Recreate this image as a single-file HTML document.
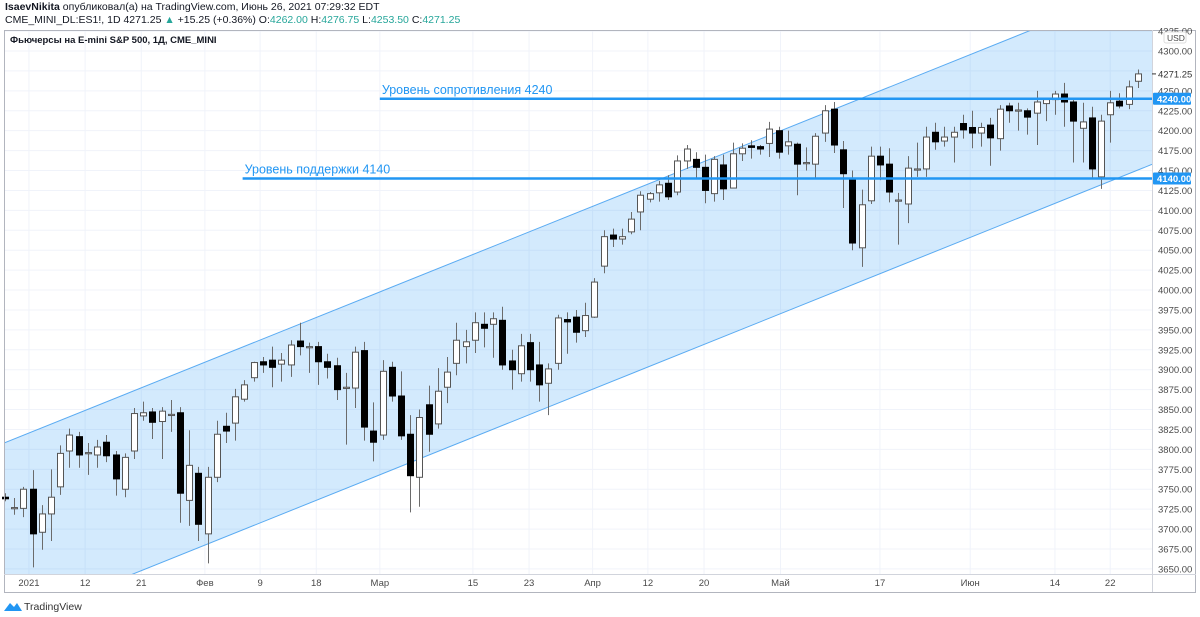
<!DOCTYPE html>
<html><head><meta charset="utf-8">
<style>
body{margin:0;background:#fff;font-family:"Liberation Sans","DejaVu Sans",sans-serif;}
#wrap{position:relative;width:1200px;height:617px;overflow:hidden;}
.hdr{position:absolute;left:5px;font-size:10.5px;color:#131722;white-space:nowrap;}
.g{color:#26a69a}
</style></head><body>
<div id="wrap">
<div class="hdr" style="top:1px"><b>IsaevNikita</b> опубликовал(а) на TradingView.com, Июнь 26, 2021 07:29:32 EDT</div>
<div class="hdr" style="top:14px">CME_MINI_DL:ES1!, 1D 4271.25 <span class="g">▲</span> +15.25 (+0.36%) O:<span class="g">4262.00</span> H:<span class="g">4276.75</span> L:<span class="g">4253.50</span> C:<span class="g">4271.25</span></div>
<svg id="chart" width="1200" height="617" style="position:absolute;left:0;top:0"></svg>
</div>
<script>
const opens=[3740,3727,3726,3750,3696,3719,3753,3798,3816,3796,3793,3809,3793,3750,3798,3842,3847,3835,3844,3846,3736,3770,3694,3765,3829,3833,3863,3890,3910,3912,3907,3906,3936,3929,3929,3910,3905,3878,3877,3924,3823,3818,3903,3867,3819,3765,3856,3832,3878,3908,3929,3937,3957,3957,3962,3911,3895,3934,3906,3883,3908,3963,3966,3949,3966,4030,4069,4064,4073,4098,4114,4122,4134,4123,4162,4164,4154,4121,4157,4128,4171,4181,4180,4184,4200,4181,4183,4160,4158,4197,4227,4176,4139,4053,4112,4168,4158,4113,4108,4152,4152,4198,4187,4192,4209,4204,4197,4207,4190,4231,4226,4225,4222,4234,4239,4246,4236,4203,4216,4142,4220,4237,4233,4262];
const closes=[3738,3727,3750,3694,3719,3740,3795,3818,3793,3796,3803,3792,3763,3790,3845,3846,3834,3848,3844,3745,3780,3706,3765,3819,3823,3866,3881,3909,3906,3903,3912,3931,3929,3929,3910,3903,3875,3878,3922,3828,3809,3898,3867,3817,3767,3840,3819,3873,3897,3937,3935,3959,3952,3964,3906,3900,3930,3900,3881,3901,3965,3960,3947,3968,4010,4067,4064,4067,4089,4119,4121,4132,4117,4162,4177,4154,4125,4164,4127,4171,4178,4179,4177,4202,4173,4186,4158,4160,4193,4225,4182,4146,4059,4107,4168,4157,4123,4113,4153,4152,4192,4186,4192,4198,4201,4197,4204,4191,4227,4225,4226,4217,4236,4239,4246,4236,4212,4211,4152,4212,4235,4231,4255,4271.25];
const highs=[3745,3739,3753,3774,3730,3775,3805,3826,3822,3808,3812,3818,3798,3795,3852,3860,3852,3853,3862,3853,3824,3778,3778,3836,3846,3876,3887,3910,3916,3929,3921,3937,3959,3934,3935,3920,3915,3896,3929,3935,3859,3912,3910,3898,3843,3850,3880,3902,3916,3959,3950,3972,3972,3972,3979,3925,3945,3945,3935,3908,3969,3972,3975,3984,4015,4075,4077,4077,4098,4124,4123,4137,4144,4169,4182,4173,4170,4168,4170,4185,4184,4188,4182,4211,4205,4200,4185,4179,4197,4232,4236,4187,4150,4126,4180,4180,4178,4122,4168,4185,4205,4210,4205,4205,4220,4225,4210,4216,4232,4235,4235,4228,4250,4240,4250,4260,4241,4235,4230,4220,4250,4247,4263,4276.75];
const lows=[3735,3718,3715,3652,3674,3685,3743,3777,3777,3768,3777,3784,3742,3740,3788,3836,3813,3788,3822,3708,3704,3685,3657,3759,3808,3811,3860,3885,3896,3878,3885,3891,3918,3896,3881,3889,3862,3806,3852,3811,3785,3812,3860,3812,3721,3728,3797,3826,3858,3893,3908,3921,3928,3915,3900,3875,3885,3885,3860,3843,3900,3920,3934,3941,3965,4021,4054,4057,4070,4075,4110,4111,4113,4119,4152,4140,4109,4111,4113,4128,4162,4165,4170,4167,4165,4170,4119,4150,4140,4186,4172,4103,4050,4029,4108,4138,4110,4057,4084,4142,4142,4176,4180,4160,4190,4178,4180,4156,4175,4210,4200,4195,4182,4212,4220,4205,4160,4160,4141,4127,4185,4228,4227,4253.5];
const priceTicks=[4325,4300,4275,4250,4225,4200,4175,4150,4125,4100,4075,4050,4025,4000,3975,3950,3925,3900,3875,3850,3825,3800,3775,3750,3725,3700,3675,3650];
const dateLabels=["2021","12","21","Фев","9","18","Мар","15","23","Апр","12","20","Май","17","Июн","14","22"];
const dateLabelIdx=[2.6,8.7,14.8,21.7,27.7,33.8,40.7,50.8,56.9,63.8,69.8,75.9,84.2,95,104.8,114,120];
const levels=[4240,4140];
const levelText=["Уровень сопротивления 4240","Уровень поддержки 4140"];
const levelStartIdx=[40.7,25.8];

const NS="http://www.w3.org/2000/svg";
const svg=document.getElementById('chart');
const PL=4,PR=1152,PT=30,PB=574;
const y=p=>51+(4300-p)*0.7968;
const x=i=>5+i*9.21;
function mk(tag,attrs,parent){const e=document.createElementNS(NS,tag);for(const k in attrs)e.setAttribute(k,attrs[k]);(parent||svg).appendChild(e);return e;}

priceTicks.forEach(p=>{const l=mk('line',{x1:PL,x2:PR,y1:y(p),y2:y(p),stroke:'#f0f3fa','stroke-width':1});

});
dateLabelIdx.forEach(i=>{const l=mk('line',{x1:x(i),x2:x(i),y1:PT,y2:PB,stroke:'#f0f3fa','stroke-width':1});

});

const sl=-0.402;
const uy=X=>443+sl*(X-PL), ly=X=>574+sl*(X-133);
const clip=mk('clipPath',{id:'cp'});mk('rect',{x:PL,y:PT,width:PR-PL,height:PB-PT},clip);
const ch=mk('polygon',{points:`${PL},${uy(PL)} ${PR},${uy(PR)} ${PR},${ly(PR)} ${133},${ly(133)} ${PL},${ly(PL)}`,fill:'rgba(33,150,243,0.2)','clip-path':'url(#cp)'});


[uy,ly].forEach((f,k)=>{const l=mk('line',{x1:PL,y1:f(PL),x2:PR,y2:f(PR),stroke:'#5aabf2','stroke-width':1,'clip-path':'url(#cp)'});

});

opens.forEach((o,i)=>{const c=closes[i],h=highs[i],lo=lows[i],cx=Math.round(x(i))+0.5;
const g=mk('g',{});


mk('line',{x1:cx,x2:cx,y1:y(h),y2:y(lo),stroke:'#6b6b6b','stroke-width':1},g);
const top=y(Math.max(o,c)),bh=Math.max(1.2,Math.abs(y(o)-y(c)));
mk('rect',{x:cx-3,y:top,width:6,height:bh,fill:c>=o?'#fff':'#000',stroke:c>=o?'#555':'#000','stroke-width':1},g);});

levels.forEach((p,k)=>{const l=mk('line',{x1:x(levelStartIdx[k]),x2:PR,y1:y(p),y2:y(p),stroke:'#2196f3','stroke-width':2.5});


const t=mk('text',{x:x(levelStartIdx[k])+2,y:y(p)-5,fill:'#2196f3','font-size':12.5,'font-family':'Liberation Sans, sans-serif'});t.textContent=levelText[k];

});

mk('rect',{x:PL+0.5,y:PT+0.5,width:1195-PL,height:592-PT,fill:'none',stroke:'#b2b5be','stroke-width':1});
mk('line',{x1:PR+0.5,x2:PR+0.5,y1:PT,y2:592,stroke:'#d1d4dc'});
mk('line',{x1:PL,x2:1196,y1:PB+0.5,y2:PB+0.5,stroke:'#d1d4dc'});
priceTicks.forEach(p=>{if(p===4275)return;const t=mk('text',{x:1158,y:y(p)+3.5,fill:'#4a4a4a','font-size':9.5,'font-family':'Liberation Sans, sans-serif'});t.textContent=p.toFixed(2);

});
dateLabels.forEach((s,k)=>{const t=mk('text',{x:x(dateLabelIdx[k]),y:586,fill:'#4a4a4a','font-size':9.5,'text-anchor':'middle','font-family':'Liberation Sans, sans-serif'});t.textContent=s;

});
levels.forEach(p=>{const r=mk('rect',{x:1153,y:y(p)-6,width:38,height:12,fill:'#2196f3',rx:1});


const t=mk('text',{x:1157,y:y(p)+3.5,fill:'#fff','font-size':9.5,'font-weight':'bold','font-family':'Liberation Sans, sans-serif'});t.textContent=p.toFixed(2);});
const lp=closes[closes.length-1];
mk('line',{x1:PR,x2:PR+4,y1:y(lp),y2:y(lp),stroke:'#333'});
const lt=mk('text',{x:1158,y:y(lp)+3.5,fill:'#333','font-size':9.5,'font-family':'Liberation Sans, sans-serif'});lt.textContent=lp.toFixed(2);


mk('rect',{x:1164,y:32,width:22,height:11,fill:'#fff',stroke:'#ddd',rx:2});
const usd=mk('text',{x:1167,y:41,fill:'#4a4a4a','font-size':8.5,'font-family':'Liberation Sans, sans-serif'});usd.textContent='USD';


const ti=mk('text',{x:10,y:43,fill:'#131722','font-size':9.5,'font-weight':'bold','font-family':'Liberation Sans, sans-serif'});ti.textContent='Фьючерсы на E-mini S&P 500, 1Д, CME_MINI';


const lg=mk('path',{d:'M4 611 L10 603 L14 607 L17 603 L22 611 Z',fill:'#2196f3'});


const lgt=mk('text',{x:24,y:610,fill:'#333','font-size':10.5,'font-family':'Liberation Sans, sans-serif'});lgt.textContent='TradingView';


</script>
</body></html>
